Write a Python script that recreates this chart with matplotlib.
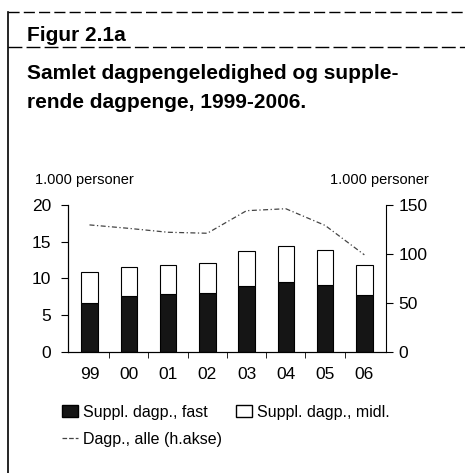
import matplotlib
matplotlib.use('Agg')
import matplotlib.pyplot as plt
from matplotlib.lines import Line2D
from matplotlib.patches import Patch

plt.rcParams['font.family'] = ['Liberation Sans', 'DejaVu Sans']
plt.rcParams['hatch.color'] = '#777777'
plt.rcParams['hatch.linewidth'] = 0.8

years = ['99', '00', '01', '02', '03', '04', '05', '06']
fast = [6.6, 7.6, 7.9, 8.0, 9.0, 9.5, 9.1, 7.8]
total = [10.8, 11.6, 11.8, 12.1, 13.7, 14.4, 13.9, 11.8]
midl = [t - f for t, f in zip(total, fast)]
dagp_alle = [129.5, 126, 122, 121, 144, 146, 129, 99]

fig = plt.figure(figsize=(4.65, 4.73), dpi=100)

# frame lines of the scanned box
fig.add_artist(Line2D([0.017, 0.017], [0.0, 0.975], color='black', lw=1.2))
fig.add_artist(Line2D([0.017, 1.0], [0.975, 0.975], color='black', lw=1.0, ls=(0, (8, 3))))
fig.add_artist(Line2D([0.017, 1.0], [0.900, 0.900], color='black', lw=1.0, ls=(0, (10, 3))))

fig.text(0.058, 0.914, 'Figur 2.1a', fontsize=15, fontweight='bold')
fig.text(0.058, 0.832, 'Samlet dagpengeledighed og supple-', fontsize=15, fontweight='bold')
fig.text(0.058, 0.772, 'rende dagpenge, 1999-2006.', fontsize=15, fontweight='bold')

ax = fig.add_axes([0.146, 0.256, 0.684, 0.311])
x = list(range(len(years)))
ax.bar(x, fast, width=0.42, color='#151515', edgecolor='black', lw=0.8)
ax.bar(x, fast, width=0.42, color='none', edgecolor='none', lw=0, hatch='...')
ax.bar(x, midl, bottom=fast, width=0.42, color='white', edgecolor='black', lw=0.8)
ax.set_xlim(-0.55, len(years) - 0.45)
ax.set_ylim(0, 20)
ax.set_yticks([0, 5, 10, 15, 20])
ax.set_xticks(x)
ax.set_xticklabels(years)
ax.set_xticks([i + 0.5 for i in x[:-1]], minor=True)
ax.tick_params(axis='x', which='major', length=0, pad=11, labelsize=12.5)
ax.tick_params(axis='x', which='minor', length=4, direction='out')
ax.tick_params(axis='y', length=5, direction='out', labelsize=12.5, pad=7)
ax.spines['top'].set_visible(False)
ax.spines['right'].set_visible(False)

ax2 = ax.twinx()
ax2.plot(x, dagp_alle, color='#444444', lw=0.9, ls=(0, (4, 2, 1, 2)))
ax2.set_ylim(0, 150)
ax2.set_yticks([0, 50, 100, 150])
ax2.tick_params(axis='y', length=5, direction='out', labelsize=12.5, pad=4)
ax2.spines['top'].set_visible(False)

fig.text(0.075, 0.612, '1.000 personer', fontsize=10.5)
fig.text(0.922, 0.612, '1.000 personer', fontsize=10.5, ha='right')

handles = [Patch(facecolor='#151515', edgecolor='black', label='Suppl. dagp., fast'),
           Line2D([0], [0], color='#444444', lw=0.9, ls='--', label='Dagp., alle (h.akse)'),
           Patch(facecolor='white', edgecolor='black', label='Suppl. dagp., midl.')]
fig.legend(handles=handles, loc='upper left', bbox_to_anchor=(0.12, 0.158), ncol=2,
           frameon=False, fontsize=11.5, handlelength=1.0, handleheight=0.8,
           handletextpad=0.3, columnspacing=0.9, labelspacing=0.75, borderaxespad=0)

fig.savefig('out.png', dpi=100)
